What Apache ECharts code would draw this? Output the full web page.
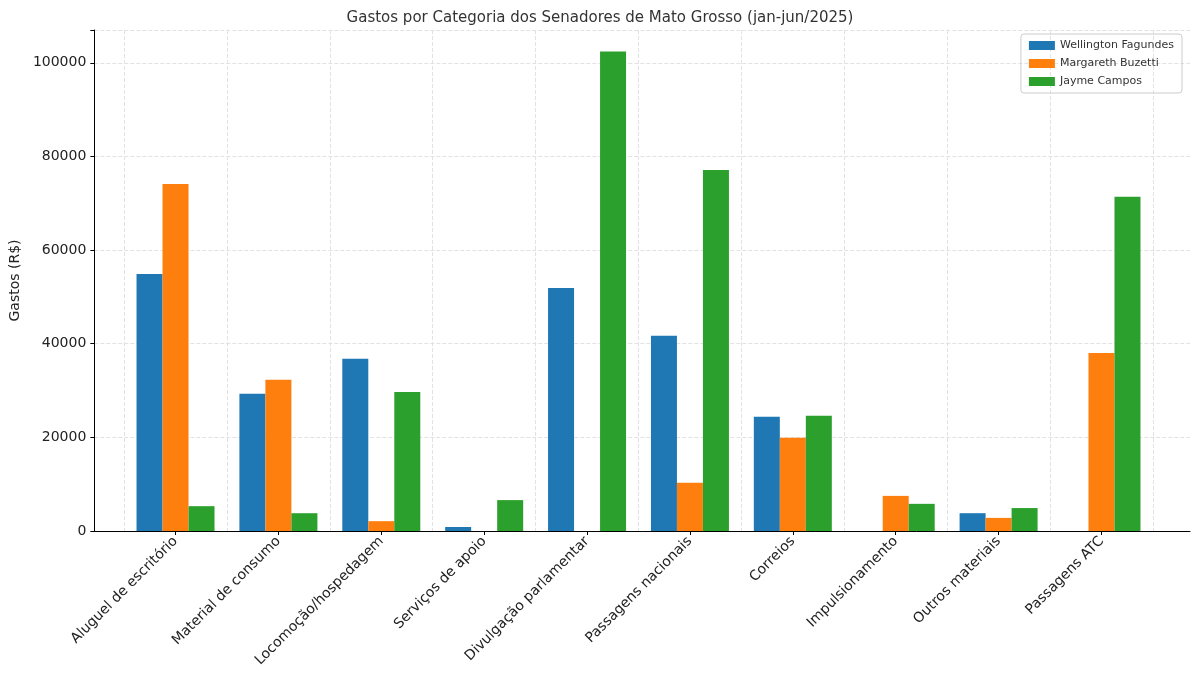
<!DOCTYPE html>
<html><head><meta charset="utf-8">
<script src="https://cdn.jsdelivr.net/npm/echarts@6/dist/echarts.min.js"></script>
<style>html,body{margin:0;padding:0;background:#fff}#c{width:1200px;height:682px}</style>
</head><body><div id="c"></div>
<script>
const categories = ['Aluguel de escritório','Material de consumo','Locomoção/hospedagem','Serviços de apoio','Divulgação parlamentar','Passagens nacionais','Correios','Impulsionamento','Outros materiais','Passagens ATC'];
const wellington = [54900, 29300, 36800, 850, 51900, 41700, 24400, 0, 3800, 0];
const margareth = [74100, 32300, 2100, 0, 0, 10300, 19900, 7500, 2800, 38000];
const jayme = [5300, 3800, 29700, 6600, 102400, 77100, 24600, 5800, 4900, 71400];
const yTicks = [0, 20000, 40000, 60000, 80000, 100000];
const font = 'DejaVu Sans';
const chart = echarts.init(document.getElementById('c'));
const unit = 103, pad = 0.36*unit;
const mk = (name, data, color) => ({name, type:'bar', data, xAxisIndex:1, yAxisIndex:1, barWidth:26, barGap:'0%', itemStyle:{color}});
chart.setOption({
  animation:false,
  textStyle:{fontFamily:font},
  title:{text:'Gastos por Categoria dos Senadores de Mato Grosso (jan-jun/2025)', left:'center', top:6, textStyle:{fontFamily:font,fontSize:15,fontWeight:'normal',color:'#333'}},
  legend:{top:34, right:18, orient:'vertical', itemWidth:26, itemHeight:9, itemGap:7, padding:[6,8], borderColor:'#ccc', borderWidth:1, borderRadius:3, textStyle:{fontSize:11,color:'#333'}, icon:'rect', data:['Wellington Fagundes','Margareth Buzetti','Jayme Campos']},
  grid:[{left:87, right:10, top:30, bottom:151},{left:87+pad, right:10+pad, top:30, bottom:151}],
  xAxis:[
    {gridIndex:0, type:'value', min:0, max:1, axisLine:{show:true,lineStyle:{color:'#000'}}, axisTick:{show:false}, axisLabel:{show:false}, splitLine:{show:false}},
    {gridIndex:1, type:'category', data:categories, axisLine:{show:false}, axisTick:{show:true, alignWithLabel:true, length:4, lineStyle:{color:'#000'}},
     axisLabel:{rotate:45, fontSize:14, color:'#222', interval:0, margin:8}, splitLine:{show:true, interval:0, lineStyle:{type:'dashed', color:'#e2e2e2'}}}
  ],
  yAxis:[
    {gridIndex:0, type:'value', min:0, max:107000, interval:20000, name:'Gastos (R$)', nameLocation:'middle', nameGap:66, nameTextStyle:{fontSize:14,color:'#222'},
     axisLine:{show:true,lineStyle:{color:'#000'}}, axisTick:{show:true,length:4,lineStyle:{color:'#000'}},
     axisLabel:{fontSize:14,color:'#222', customValues:yTicks, formatter:v=>String(v)}, splitLine:{show:true,lineStyle:{type:'dashed',color:'#e2e2e2'}}},
    {gridIndex:1, type:'value', min:0, max:107000, show:false, splitLine:{show:false}}
  ],
  series:[
    mk('Wellington Fagundes', wellington, '#1f77b4'),
    mk('Margareth Buzetti', margareth, '#ff7f0e'),
    mk('Jayme Campos', jayme, '#2ca02c')
  ]
});
</script></body></html>
